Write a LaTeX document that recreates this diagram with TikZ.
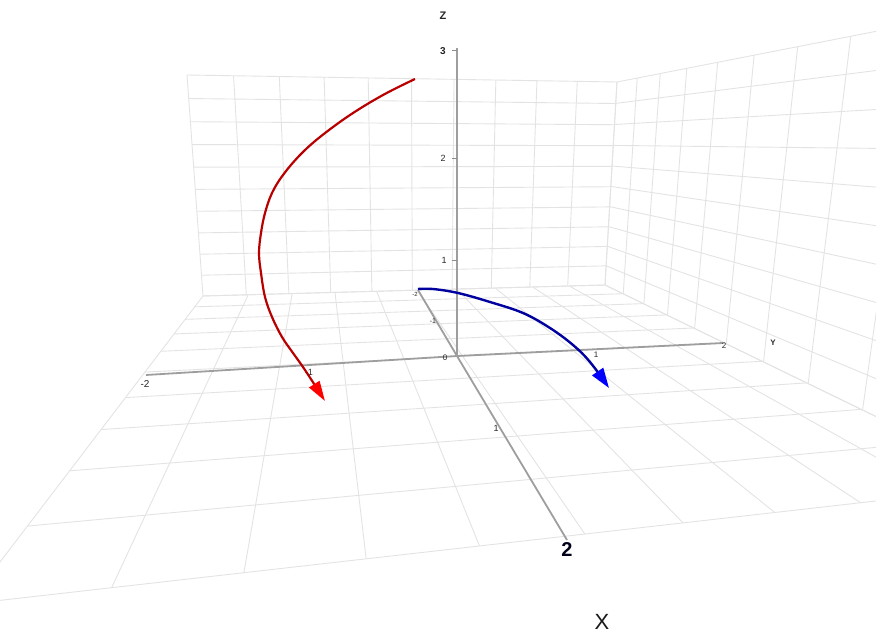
\documentclass[tikz,border=0pt]{standalone}
\usepackage{fontspec}
\setmainfont{Liberation Sans}
\usetikzlibrary{arrows.meta}

% projective map of the unit square onto a quad (P0=(0,0),P1=(1,0),P2=(1,1),P3=(0,1))
\newcommand\SetQuad[8]{%
  \edef\QdxA{\fpeval{(#3)-(#5)}}%
  \edef\QdxB{\fpeval{(#7)-(#5)}}%
  \edef\QdxC{\fpeval{(#1)-(#3)+(#5)-(#7)}}%
  \edef\QdyA{\fpeval{(#4)-(#6)}}%
  \edef\QdyB{\fpeval{(#8)-(#6)}}%
  \edef\QdyC{\fpeval{(#2)-(#4)+(#6)-(#8)}}%
  \edef\Qden{\fpeval{(\QdxA)*(\QdyB)-(\QdxB)*(\QdyA)}}%
  \edef\Qg{\fpeval{((\QdxC)*(\QdyB)-(\QdxB)*(\QdyC))/(\Qden)}}%
  \edef\Qh{\fpeval{((\QdxA)*(\QdyC)-(\QdxC)*(\QdyA))/(\Qden)}}%
  \edef\Qa{\fpeval{(#3)-(#1)+(\Qg)*(#3)}}%
  \edef\Qb{\fpeval{(#7)-(#1)+(\Qh)*(#7)}}%
  \edef\Qd{\fpeval{(#4)-(#2)+(\Qg)*(#4)}}%
  \edef\Qe{\fpeval{(#8)-(#2)+(\Qh)*(#8)}}%
  \edef\Qc{#1}\edef\Qf{#2}%
}
\newcommand\QPt[4]{%
  \edef\QW{\fpeval{(\Qg)*(#1)+(\Qh)*(#2)+1}}%
  \edef#3{\fpeval{((\Qa)*(#1)+(\Qb)*(#2)+(\Qc))/(\QW)}}%
  \edef#4{\fpeval{((\Qd)*(#1)+(\Qe)*(#2)+(\Qf))/(\QW)}}%
}
\newcommand\QLine[4]{%
  \QPt{#1}{#2}\LAx\LAy
  \QPt{#3}{#4}\LBx\LBy
  \draw[gridline] (\LAx,\LAy) -- (\LBx,\LBy);
}
\newcommand\QGrid{%
  \foreach \k in {0,...,10}{%
    \QLine{\k/10}{0}{\k/10}{1}%
    \QLine{0}{\k/10}{1}{\k/10}%
  }%
}

\begin{document}
\begin{tikzpicture}[x=1pt,y=-1pt,
  gridline/.style={draw=black!11, line width=0.9pt},
  axisline/.style={draw=black!38, line width=1.8pt},
  tickline/.style={draw=black!45, line width=0.8pt},
  lbl/.style={inner sep=0pt, font=\fontsize{9}{9}\selectfont, text=black!85},
  redcurve/.style={draw=red!72!black, line width=2.2pt, -{Triangle[length=20pt,width=12pt,color=red]}},
  bluecurve/.style={draw=blue!62!black, line width=2.4pt, -{Triangle[length=20pt,width=13pt,color=blue]}}]
\useasboundingbox (0,0) rectangle (876,639);
\clip (0,0) rectangle (876,639);

% floor z=0
\SetQuad{203}{296}{605}{285}{1017}{485}{-32}{604}
\QGrid
% back wall x=-2
\SetQuad{203}{296}{605}{285}{617}{82}{187}{75}
\QGrid
% right wall y=2
\SetQuad{605}{285}{1017}{485}{1113}{-15}{617}{82}
\QGrid

% axes
\coordinate (O) at (457,356);
\coordinate (xneg) at (418,290);
\coordinate (xpos) at (567,540);
\coordinate (yneg) at (146,375);
\coordinate (ypos) at (723,343);
\coordinate (ztop) at (457,48);
\draw[axisline] (xneg) -- (O) -- (xpos);
\draw[axisline] (yneg) -- (O) -- (ypos);
\draw[axisline] (O) -- (ztop);
\coordinate (z1) at (457,260);
\coordinate (z2) at (457,158);
\coordinate (z3) at (457,50);
\foreach \t in {z1,z2,z3}{\draw[tickline] (\t) -- ++(-5,0);}

% labels
\node[lbl, font=\bfseries\fontsize{11}{11}\selectfont] (lZ) at (443,16) {Z};
\node[lbl, font=\bfseries\fontsize{10}{10}\selectfont] (lz3) at (443,51) {3};
\node[lbl] (lz2) at (443,158) {2};
\node[lbl] (lz1) at (444,260) {1};
\node[lbl, font=\fontsize{8}{8}\selectfont] (lz0) at (445,358) {0};
\node[lbl, font=\fontsize{10}{10}\selectfont] (ly-2) at (145,384) {-2};
\node[lbl, font=\fontsize{9}{9}\selectfont] (ly-1) at (309,372) {-1};
\node[lbl, font=\fontsize{8}{8}\selectfont] (ly1) at (596,355) {1};
\node[lbl, font=\fontsize{8}{8}\selectfont] (ly2) at (724,346) {2};
\node[lbl, font=\bfseries\fontsize{8}{8}\selectfont] (lY) at (773,343) {Y};
\node[lbl, font=\fontsize{6}{6}\selectfont] (lx-2) at (415,294) {-2};
\node[lbl, font=\fontsize{7}{7}\selectfont] (lx-1) at (433,321) {-1};
\node[lbl, font=\fontsize{9}{9}\selectfont] (lx1) at (496,428) {1};
\node[lbl, font=\bfseries\fontsize{20}{20}\selectfont, text=black!90!blue] (lx2) at (567,550) {2};
\node[lbl, font=\fontsize{22}{22}\selectfont, text=black!90] (lX) at (602,622) {X};

% curves
\draw[redcurve] plot[smooth, tension=0.6] coordinates {(415,79) (383,95) (350,115) (320,137) (300,155) (283,175) (272,193) (265,213) (261,233) (259,253) (261,273) (265,297) (272,317) (282,337) (293,353) (305,370) (325,401)};
\draw[bluecurve] plot[smooth, tension=0.6] coordinates {(418,289) (433,289) (458,293) (490,302) (523,313) (550,328) (573,345) (590,362) (609,388)};
\end{tikzpicture}
\end{document}
